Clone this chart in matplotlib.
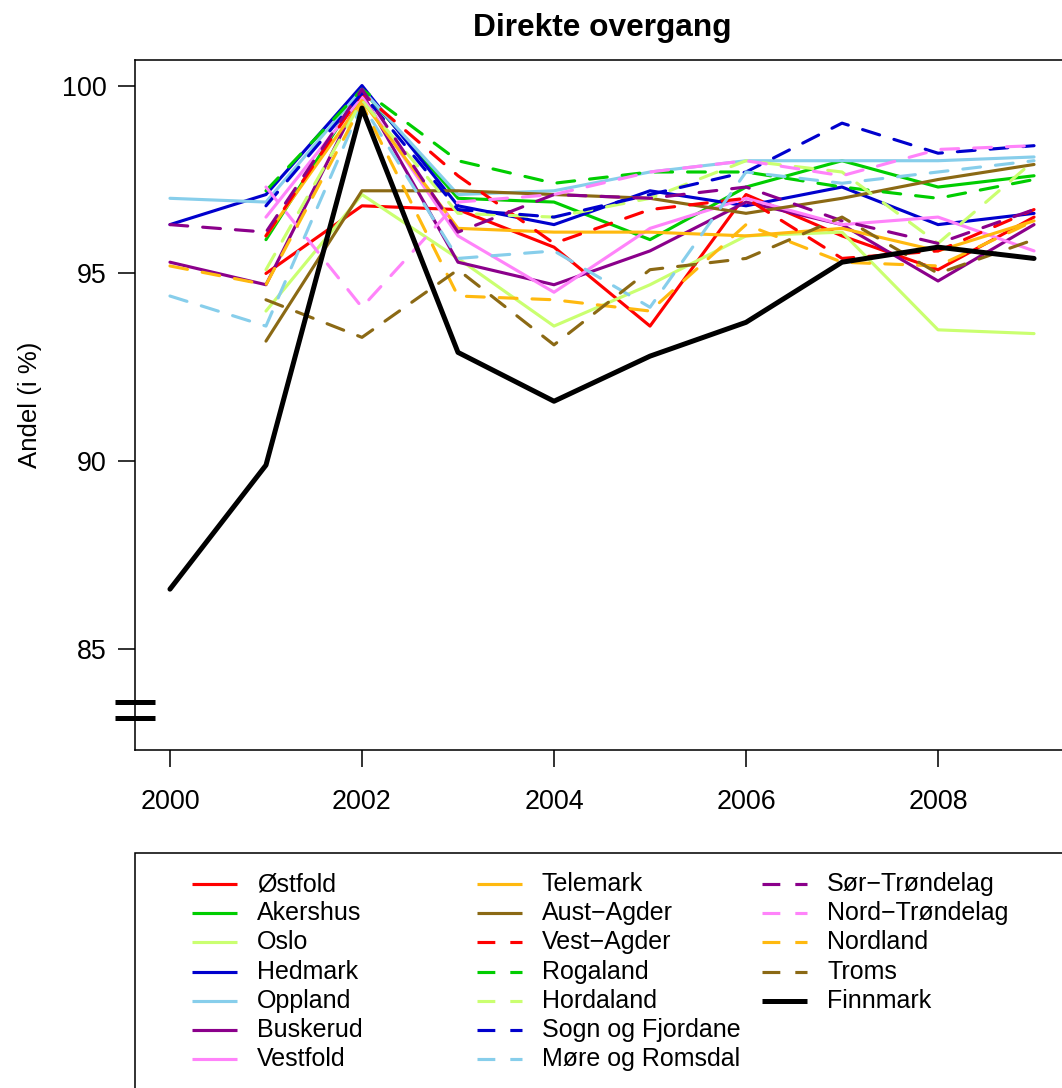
import numpy as np
import matplotlib
matplotlib.use('Agg')
import matplotlib.pyplot as plt
from matplotlib.lines import Line2D
from matplotlib.patches import Rectangle
import matplotlib.transforms as mtransforms

plt.rcParams['font.family'] = ['Liberation Sans', 'DejaVu Sans']

nan = np.nan
years = [2000, 2001, 2002, 2003, 2004, 2005, 2006, 2007, 2008, 2009]

# --- data (andel direkte overgang, %) ---
ostfold       = [nan, 95.0, 96.8, 96.7, 95.7, 93.6, 97.1, 96.0, 95.1, 96.5]
akershus      = [nan, 95.9, 99.9, 97.0, 96.9, 95.9, 97.3, 98.0, 97.3, 97.6]
oslo          = [nan, 94.0, 97.1, 95.4, 93.6, 94.7, 96.0, 96.1, 93.5, 93.4]
hedmark       = [96.3, 97.1, 100.0, 96.8, 96.3, 97.2, 96.8, 97.3, 96.3, 96.6]
oppland       = [97.0, 96.9, 99.9, 97.1, 97.2, 97.7, 98.0, 98.0, 98.0, 98.1]
buskerud      = [95.3, 94.7, 99.8, 95.3, 94.7, 95.6, 96.9, 96.3, 94.8, 96.3]
vestfold      = [nan, 96.5, 99.7, 96.0, 94.5, 96.2, 97.0, 96.3, 96.5, 95.6]
telemark      = [nan, 96.0, 99.6, 96.2, 96.1, 96.1, 96.0, 96.2, 95.6, 96.4]
aust_agder    = [nan, 93.2, 97.2, 97.2, 97.1, 97.0, 96.6, 97.0, 97.5, 97.9]
vest_agder    = [nan, 96.0, 99.8, 97.6, 95.8, 96.7, 97.0, 95.4, 95.6, 96.7]
rogaland      = [nan, 97.2, 99.9, 98.0, 97.4, 97.7, 97.7, 97.3, 97.0, 97.5]
hordaland     = [nan, 95.1, 99.6, 96.6, 96.5, 97.0, 98.0, 97.7, 95.8, 98.0]
sogn_fjordane = [nan, 96.8, 99.8, 96.7, 96.5, 97.1, 97.7, 99.0, 98.2, 98.4]
more_romsdal  = [94.4, 93.6, 99.5, 95.4, 95.6, 94.1, 97.7, 97.4, 97.7, 98.0]
sor_trondelag = [96.3, 96.1, 99.9, 96.1, 97.1, 97.0, 97.3, 96.4, 95.8, 96.7]
nord_trondelag = [nan, 97.3, 94.1, 96.9, 97.1, 97.7, 98.0, 97.6, 98.3, 98.4]
nordland      = [95.2, 94.7, 99.5, 94.4, 94.3, 94.0, 96.3, 95.3, 95.2, 96.4]
troms         = [nan, 94.3, 93.3, 95.1, 93.1, 95.1, 95.4, 96.5, 95.0, 95.9]
finnmark      = [86.6, 89.9, 99.4, 92.9, 91.6, 92.8, 93.7, 95.3, 95.7, 95.4]

names = ['Østfold', 'Akershus', 'Oslo', 'Hedmark', 'Oppland', 'Buskerud', 'Vestfold',
         'Telemark', 'Aust\u2212Agder', 'Vest\u2212Agder', 'Rogaland', 'Hordaland',
         'Sogn og Fjordane', 'Møre og Romsdal', 'Sør\u2212Trøndelag', 'Nord\u2212Trøndelag',
         'Nordland', 'Troms', 'Finnmark']
series = [ostfold, akershus, oslo, hedmark, oppland, buskerud, vestfold, telemark,
          aust_agder, vest_agder, rogaland, hordaland, sogn_fjordane, more_romsdal,
          sor_trondelag, nord_trondelag, nordland, troms, finnmark]

base_cols = ['#FF0000', '#00CD00', '#CAFF70', '#0000CD', '#87CEEB', '#8B008B',
             '#FF83FA', '#FFB90F', '#8B6914']
colors = base_cols + base_cols + ['black']
dashed = [False] * 9 + [True] * 9 + [False]
widths = [1.5] * 18 + [2.4]
dash_pat = (0, (5.7, 4.8))

W, H = 1062, 1088
fig = plt.figure(figsize=(W / 150, H / 150), dpi=150)
ax = fig.add_axes([135.4 / W, 1 - 750 / H, 933.2 / W, 690 / H])

for vals, c, d, lw in zip(series, colors, dashed, widths):
    ax.plot(years, vals, color=c, lw=lw,
            ls=dash_pat if d else '-',
            solid_capstyle='round', solid_joinstyle='round',
            dash_capstyle='round', dash_joinstyle='round')

ax.set_xlim(1999.64, 2009.36)
ax.set_ylim(82.32, 100.68)
ax.set_xticks([2000, 2002, 2004, 2006, 2008])
ax.set_yticks([85, 90, 95, 100])
ax.tick_params(direction='out', length=8.2, width=0.75, labelsize=12.9)
ax.tick_params(axis='x', pad=10.5)
ax.tick_params(axis='y', pad=5.5)
for s in ax.spines.values():
    s.set_linewidth(0.75)

# axis break mark
brk = mtransforms.blended_transform_factory(ax.transAxes, ax.transData)
for yb in (83.6, 83.18):
    ax.plot([-0.0219, 0.021], [yb, yb], color='black', lw=2.4,
            solid_capstyle='butt', transform=brk, clip_on=False)

fig.text(602 / W, 1 - 28 / H, 'Direkte overgang', ha='center', va='center',
         fontsize=15.2, fontweight='bold')
fig.text(30 / W, 1 - 405 / H, 'Andel (i %)', rotation=90, ha='center',
         va='center', fontsize=12.4)

# legend box below the plot
fig.add_artist(Rectangle((135 / W, -0.02), 940 / W, 0.02 + 1 - 853 / H,
                         transform=fig.transFigure, fill=False, lw=0.75,
                         edgecolor='black'))
col_x = [192, 477, 762]
for i, name in enumerate(names):
    col, row = i // 7, i % 7
    yy = 1 - (884 + 29.17 * row) / H
    x0 = col_x[col]
    fig.add_artist(Line2D([x0 / W, (x0 + 45) / W], [yy, yy], transform=fig.transFigure,
                          color=colors[i], lw=widths[i],
                          ls=dash_pat if dashed[i] else '-',
                          solid_capstyle='butt', dash_capstyle='butt'))
    fig.text((x0 + 65) / W, yy, name, ha='left', va='center', fontsize=12)

plt.savefig('out.png', dpi=150)
plt.close()
